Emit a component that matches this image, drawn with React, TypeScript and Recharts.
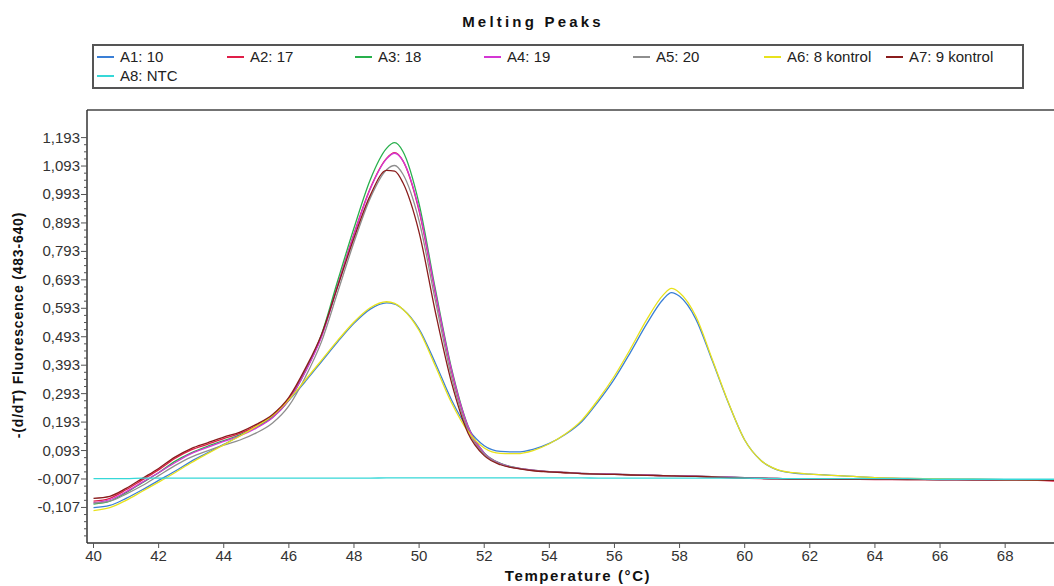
import { LineChart, Line, XAxis, YAxis, ReferenceLine } from "recharts";

// Temperature (°C) sample points
const temps = [
  40, 40.5, 41, 41.5, 42, 42.5, 43, 43.5, 44, 44.5, 45, 45.5, 46, 46.5, 47, 47.5, 48, 48.5, 49, 49.25,
  49.5, 50, 50.5, 51, 51.5, 52, 52.5, 53, 53.5, 54, 54.5, 55, 55.5, 56, 56.5, 57, 57.5, 57.75, 58, 58.5,
  59, 59.5, 60, 60.5, 61, 61.5, 62, 63, 64, 65, 66, 67, 68, 69, 69.5,
];

const a1 = [
  -0.108, -0.1, -0.075, -0.045, -0.012, 0.02, 0.055, 0.085, 0.115, 0.145, 0.178, 0.215, 0.27, 0.335, 0.405, 0.475, 0.54, 0.59, 0.612, 0.608,
  0.59, 0.52, 0.4, 0.27, 0.17, 0.11, 0.09, 0.088, 0.097, 0.118, 0.15, 0.195, 0.265, 0.345, 0.44, 0.54, 0.625, 0.648, 0.635, 0.555,
  0.41, 0.26, 0.13, 0.058, 0.025, 0.014, 0.01, 0.004, -0.002, -0.005, -0.007, -0.008, -0.009, -0.01, -0.011,
];
const a2 = [
  -0.085, -0.075, -0.045, -0.01, 0.025, 0.065, 0.095, 0.115, 0.135, 0.153, 0.18, 0.215, 0.275, 0.372, 0.495, 0.675, 0.855, 1.015, 1.12, 1.14,
  1.112, 0.935, 0.645, 0.37, 0.175, 0.082, 0.046, 0.031, 0.023, 0.018, 0.015, 0.012, 0.01, 0.009, 0.007, 0.006, 0.004, 0.004, 0.003, 0.002,
  0, -0.002, -0.004, -0.006, -0.007, -0.007, -0.008, -0.008, -0.009, -0.009, -0.01, -0.01, -0.011, -0.012, -0.014,
];
const a3 = [
  -0.095, -0.085, -0.055, -0.02, 0.015, 0.055, 0.085, 0.108, 0.128, 0.148, 0.175, 0.21, 0.27, 0.37, 0.5, 0.69, 0.875, 1.045, 1.155, 1.175,
  1.145, 0.96, 0.66, 0.38, 0.18, 0.085, 0.048, 0.032, 0.024, 0.019, 0.016, 0.013, 0.011, 0.01, 0.008, 0.007, 0.005, 0.005, 0.004, 0.003,
  0.001, 0, -0.002, -0.004, -0.005, -0.006, -0.006, -0.007, -0.008, -0.008, -0.009, -0.009, -0.01, -0.011, -0.012,
];
const a4 = [
  -0.09, -0.08, -0.052, -0.018, 0.015, 0.05, 0.082, 0.104, 0.125, 0.145, 0.172, 0.208, 0.27, 0.368, 0.492, 0.672, 0.852, 1.012, 1.118, 1.138,
  1.112, 0.94, 0.65, 0.375, 0.178, 0.084, 0.047, 0.032, 0.024, 0.019, 0.016, 0.013, 0.011, 0.01, 0.008, 0.007, 0.005, 0.005, 0.004, 0.003,
  0.001, 0, -0.002, -0.004, -0.005, -0.006, -0.006, -0.007, -0.008, -0.008, -0.009, -0.009, -0.01, -0.011, -0.012,
];
const a5 = [
  -0.092, -0.085, -0.06, -0.03, 0.005, 0.04, 0.07, 0.092, 0.112, 0.13, 0.155, 0.19, 0.25, 0.35, 0.475, 0.65, 0.825, 0.98, 1.08, 1.095,
  1.065, 0.9, 0.62, 0.35, 0.165, 0.08, 0.045, 0.031, 0.023, 0.018, 0.015, 0.012, 0.01, 0.009, 0.007, 0.006, 0.005, 0.004, 0.003, 0.002,
  0.001, -0.001, -0.003, -0.004, -0.005, -0.006, -0.006, -0.007, -0.008, -0.008, -0.009, -0.009, -0.01, -0.011, -0.012,
];
const a6 = [
  -0.118, -0.108, -0.082, -0.05, -0.018, 0.015, 0.05, 0.082, 0.113, 0.144, 0.178, 0.216, 0.272, 0.34, 0.41, 0.48, 0.545, 0.595, 0.616, 0.61,
  0.59, 0.515, 0.39, 0.26, 0.16, 0.102, 0.083, 0.082, 0.093, 0.117, 0.152, 0.2, 0.272, 0.355, 0.452, 0.555, 0.64, 0.663, 0.648, 0.565,
  0.415, 0.262, 0.13, 0.058, 0.026, 0.015, 0.01, 0.004, -0.002, -0.005, -0.007, -0.008, -0.009, -0.01, -0.011,
];
const a7 = [
  -0.075, -0.068, -0.04, -0.005, 0.03, 0.07, 0.1, 0.12, 0.14, 0.158, 0.185, 0.22, 0.28, 0.38, 0.5, 0.67, 0.84, 0.99, 1.078, 1.075,
  1.035, 0.86, 0.58, 0.33, 0.155, 0.075, 0.043, 0.03, 0.022, 0.018, 0.015, 0.012, 0.01, 0.009, 0.007, 0.006, 0.005, 0.004, 0.003, 0.002,
  0, -0.002, -0.004, -0.005, -0.006, -0.007, -0.007, -0.008, -0.008, -0.009, -0.009, -0.01, -0.01, -0.011, -0.012,
];
const a8 = [
  -0.006, -0.006, -0.006, -0.004, -0.004, -0.004, -0.004, -0.004, -0.004, -0.004, -0.004, -0.004, -0.004, -0.004, -0.004, -0.004, -0.004, -0.004, -0.003, -0.003,
  -0.003, -0.003, -0.003, -0.003, -0.003, -0.003, -0.003, -0.003, -0.003, -0.003, -0.003, -0.003, -0.004, -0.004, -0.004, -0.004, -0.004, -0.004, -0.004, -0.004,
  -0.004, -0.004, -0.004, -0.005, -0.006, -0.006, -0.006, -0.006, -0.006, -0.006, -0.008, -0.008, -0.008, -0.008, -0.008,
];

const seriesNames = ["A1: 10", "A2: 17", "A3: 18", "A4: 19", "A5: 20", "A6: 8 kontrol", "A7: 9 kontrol", "A8: NTC"];
const seriesColors = ["#3a7fd6", "#e01e48", "#28b04c", "#d436d4", "#8e8e8e", "#e8e21c", "#8a1c1c", "#36d8d8"];
const seriesValues = [a1, a2, a3, a4, a5, a6, a7, a8];

const xTicks = [40, 42, 44, 46, 48, 50, 52, 54, 56, 58, 60, 62, 64, 66, 68];
const yTicks = [-0.107, -0.007, 0.093, 0.193, 0.293, 0.393, 0.493, 0.593, 0.693, 0.793, 0.893, 0.993, 1.093, 1.193];
const yMinor = [
  ...yTicks.slice(0, -1).flatMap((v) => [0.025, 0.05, 0.075].map((d) => +(v + d).toFixed(3))),
  -0.132, -0.157, -0.182, -0.207,
];

const data = temps.map((t, i) => {
  const row: Record<string, number> = { t };
  seriesValues.forEach((vals, s) => {
    row["s" + s] = vals[i];
  });
  return row;
});

const PLOT_LEFT = 87;
const Y_MAX = 1.29;
const font = "'Liberation Sans', Arial, sans-serif";

const fmt = (v: number) => v.toFixed(3).replace(".", ",");

const YTick = (props: any) => {
  const { y, payload } = props;
  const v = payload.value as number;
  const major = yTicks.some((t) => Math.abs(t - v) < 1e-6);
  return (
    <g>
      <line x1={PLOT_LEFT - (major ? 6 : 3)} x2={PLOT_LEFT} y1={y} y2={y} stroke="#555" />
      {major && (
        <text x={PLOT_LEFT - 7} y={y} dy={5} textAnchor="end" fontSize={15} fill="#333" fontFamily={font}>
          {fmt(v)}
        </text>
      )}
    </g>
  );
};

const legendX = [97, 227, 355, 484, 633, 764, 886, 97];

export default function App() {
  return (
    <div style={{ position: "absolute", left: 0, top: 0, width: 1054, height: 586, background: "#fff", fontFamily: font }}>
      <div
        style={{
          position: "absolute",
          top: 13,
          left: 3,
          width: 1060,
          textAlign: "center",
          fontWeight: "bold",
          fontSize: 15,
          letterSpacing: 3.2,
          color: "#111",
        }}
      >
        Melting Peaks
      </div>

      <div
        style={{
          position: "absolute",
          left: 92,
          top: 44,
          width: 928,
          height: 41,
          border: "2px solid #555",
          boxSizing: "content-box",
        }}
      >
        {seriesNames.map((name, i) => (
          <div
            key={name}
            style={{
              position: "absolute",
              left: legendX[i] - 94,
              top: i < 7 ? 2 : 21,
              display: "flex",
              alignItems: "center",
              fontSize: 15,
              color: "#222",
              whiteSpace: "nowrap",
            }}
          >
            <span style={{ display: "inline-block", width: 17, height: 2, background: seriesColors[i], marginRight: 6 }} />
            {name}
          </div>
        ))}
      </div>

      <div
        style={{
          position: "absolute",
          left: 18,
          top: 325,
          transform: "translate(-50%, -50%) rotate(-90deg)",
          whiteSpace: "nowrap",
          fontWeight: "bold",
          fontSize: 14,
          letterSpacing: 0.8,
          color: "#111",
        }}
      >
        -(d/dT) Fluorescence (483-640)
      </div>

      <div
        style={{
          position: "absolute",
          left: 578,
          top: 567,
          transform: "translateX(-50%)",
          whiteSpace: "nowrap",
          fontWeight: "bold",
          fontSize: 15,
          letterSpacing: 1.6,
          color: "#111",
        }}
      >
        Temperature (°C)
      </div>

      <div style={{ position: "absolute", left: 0, top: 0 }}>
        <LineChart width={1054} height={586} data={data} margin={{ top: 110, right: 0, bottom: 0, left: 0 }}>
          <XAxis
            dataKey="t"
            type="number"
            domain={[39.8, 69.5]}
            ticks={xTicks}
            allowDataOverflow
            height={43}
            tickSize={5}
            tickMargin={2}
            tick={{ fontSize: 15, fill: "#333", fontFamily: font }}
            axisLine={{ stroke: "#333", strokeWidth: 1.5 }}
            tickLine={{ stroke: "#555" }}
          />
          <YAxis
            type="number"
            domain={[-0.232, Y_MAX]}
            ticks={[...yTicks, ...yMinor].sort((a, b) => a - b)}
            interval={0}
            allowDataOverflow
            width={PLOT_LEFT}
            tick={<YTick />}
            tickLine={false}
            axisLine={{ stroke: "#333", strokeWidth: 1.5 }}
          />
          <ReferenceLine y={Y_MAX} stroke="#444" strokeWidth={1.5} />
          {seriesNames.map((name, i) => (
            <Line
              key={name}
              dataKey={"s" + i}
              name={name}
              type="monotone"
              stroke={seriesColors[i]}
              strokeWidth={1.3}
              dot={false}
              isAnimationActive={false}
            />
          ))}
        </LineChart>
      </div>
    </div>
  );
}
